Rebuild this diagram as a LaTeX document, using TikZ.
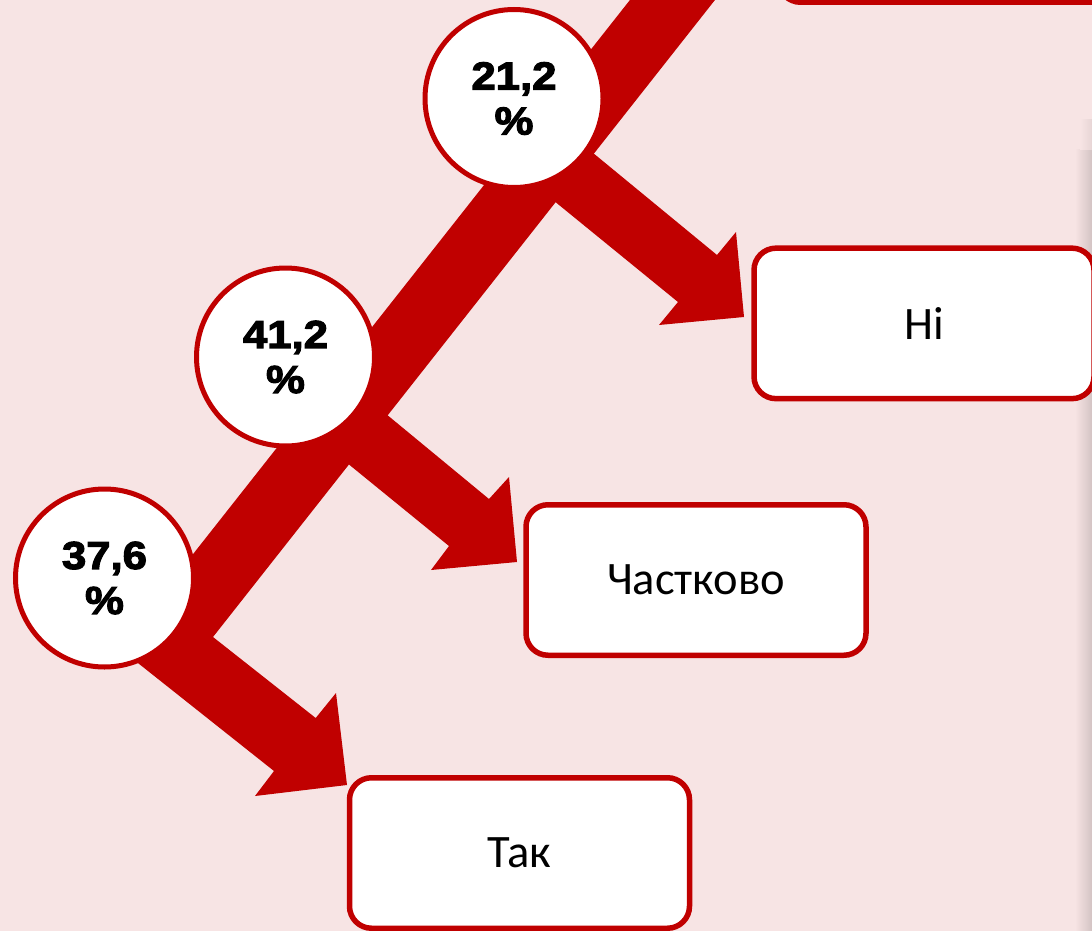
\documentclass[tikz,border=0pt]{standalone}
\usepackage{fontspec}
\setmainfont{Carlito}
\newfontfamily\pctfont{Liberation Sans Bold}[FakeBold=3,FakeStretch=1.12]
\definecolor{redc}{HTML}{C00000}
\definecolor{bgpink}{HTML}{F7E4E4}
\definecolor{shadowc}{HTML}{D3C3C3}
\tikzset{
  pctcircle/.style={circle, draw=redc, line width=5pt, fill=white, minimum size=178pt, inner sep=0pt,
    align=center, font={\pctfont\fontsize{39}{45}\selectfont}},
  answerbox/.style={rectangle, draw=redc, line width=5.5pt, fill=white, rounded corners=22pt,
    minimum width=340pt, minimum height=150.5pt, inner sep=0pt, font={\fontsize{46.5}{55}\selectfont}},
  bigarrow/.style={fill=redc}
}
\begin{document}
\begin{tikzpicture}[x=1pt,y=-1pt]
\useasboundingbox (0,0) rectangle (1092,931);
\clip (0,0) rectangle (1092,931);
\fill[bgpink] (0,0) rectangle (1092,931);
% right-edge shadow
\shade[left color=bgpink, right color=shadowc] (1075,150) rectangle (1092,931);
\shade[left color=bgpink, right color=bgpink!55!shadowc] (1080,120) rectangle (1092,150);
% main band with bottom branch
\fill[bigarrow] (645.7,-20) -- (730.7,-20) -- (213,637) -- (315.7,718) -- (336,693) -- (347,785)
  -- (255,796) -- (274,771) -- (119,648) -- cycle;
% upper branch
\fill[bigarrow] (587,148) -- (717,255) -- (736,232) -- (744,317) -- (659,325) -- (678,302) -- (548,196) -- cycle;
% middle branch
\fill[bigarrow] (380,409) -- (489,499) -- (509,477) -- (517,562) -- (431,570) -- (449,546) -- (341,458) -- cycle;
% circles
\node[pctcircle] (c1) at (514,98.5) {21,2\\\%};
\node[pctcircle] (c2) at (285.5,357) {41,2\\\%};
\node[pctcircle] (c3) at (104.5,578) {37,6\\\%};
% boxes
\node[answerbox] (top) at (948.5,-73) {};
\node[answerbox] (no) at (924,323.4) {Ні};
\node[answerbox] (partial) at (696,580) {Частково};
\node[answerbox] (yes) at (519.5,853) {Так};
\end{tikzpicture}
\end{document}
